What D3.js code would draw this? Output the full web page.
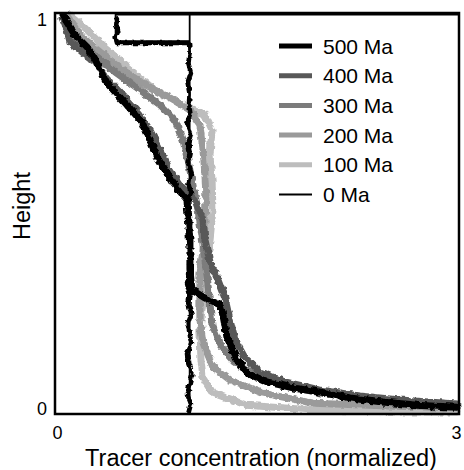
<!DOCTYPE html>
<html>
<head>
<meta charset="utf-8">
<script src="https://cdn.jsdelivr.net/npm/d3@7"></script>
<style>
  body { margin: 0; background: #fff; }
  text { font-family: "Liberation Sans", Arial, sans-serif; fill: #000; }
</style>
</head>
<body>
<div id="chart"></div>
<script>
// series: [concentration, height]
var series500 = [[0.059,0.993],[0.148,0.945],[0.245,0.913],[0.319,0.870],[0.386,0.825],[0.520,0.776],
    [0.653,0.726],[0.705,0.683],[0.757,0.641],[0.876,0.576],[0.980,0.534],[0.987,0.496],[1.002,0.434],
    [1.002,0.359],[1.017,0.309],[1.114,0.289],[1.225,0.272],[1.247,0.247],[1.277,0.192],[1.351,0.135],
    [1.425,0.102],[1.574,0.080],[1.767,0.065],[1.967,0.055],[2.190,0.040],[2.435,0.030],[2.687,0.022],[2.984,0.017]];
var series400 = [[0.052,0.988],[0.089,0.958],[0.111,0.928],[0.200,0.903],[0.297,0.878],[0.393,0.833],
    [0.520,0.788],[0.631,0.746],[0.705,0.708],[0.780,0.658],[0.854,0.608],[0.928,0.571],[1.039,0.534],
    [1.099,0.484],[1.114,0.434],[1.151,0.379],[1.210,0.334],[1.262,0.289],[1.299,0.234],[1.336,0.185],
    [1.411,0.140],[1.522,0.105],[1.708,0.080],[1.967,0.060],[2.264,0.045],[2.561,0.035],[2.984,0.025]];
var series300 = [[0.067,0.990],[0.148,0.938],[0.297,0.895],[0.445,0.853],[0.631,0.808],[0.780,0.771],
    [0.891,0.733],[0.950,0.683],[0.987,0.633],[1.024,0.571],[1.062,0.509],[1.091,0.446],[1.114,0.384],
    [1.136,0.322],[1.151,0.272],[1.166,0.222],[1.225,0.172],[1.336,0.130],[1.485,0.097],[1.708,0.072],
    [1.967,0.052],[2.339,0.037],[2.710,0.027],[2.984,0.020]];
var series200 = [[0.089,0.993],[0.186,0.945],[0.334,0.903],[0.483,0.863],[0.668,0.820],[0.854,0.788],
    [1.002,0.758],[1.076,0.721],[1.099,0.658],[1.114,0.596],[1.121,0.534],[1.114,0.471],[1.099,0.409],
    [1.076,0.347],[1.076,0.284],[1.076,0.234],[1.099,0.177],[1.173,0.117],[1.299,0.085],[1.544,0.052],
    [1.915,0.027],[2.487,0.020],[2.984,0.015]];
var series100 = [[0.111,0.995],[0.200,0.970],[0.371,0.913],[0.572,0.855],[0.742,0.808],[0.950,0.771],
    [1.114,0.746],[1.166,0.708],[1.151,0.646],[1.166,0.584],[1.173,0.509],[1.151,0.434],[1.128,0.359],
    [1.099,0.284],[1.076,0.209],[1.084,0.135],[1.099,0.092],[1.173,0.052],[1.425,0.022],[1.915,0.010],
    [2.561,0.005],[2.984,0.005]];

// initial (0 Ma) profile, jagged markers
var initialHeight = [0,0.025,0.05,0.075,0.1,0.125,0.15,0.175,0.2,0.225,0.25,0.275,0.3,0.325,0.35,0.375,
    0.4,0.425,0.45,0.475,0.5,0.525,0.55,0.575,0.6,0.625,0.65,0.675,0.7,0.725,0.75,0.775,0.8,0.825,0.85,
    0.875,0.9,0.925,0.925,0.94,0.955,0.97,0.985,0.99];
var initialConc = [0.99,1.01,0.98,1.0,1.02,0.99,0.98,1.01,1.0,0.985,1.015,0.99,1.0,0.98,1.01,0.995,
    1.02,0.99,0.985,1.005,1.0,0.98,1.01,0.99,1.015,0.985,1.0,0.99,1.01,0.98,1.005,0.995,1.0,0.985,1.01,
    0.99,1.0,0.995,0.46,0.45,0.47,0.455,0.46,0.45];
var zeroMaColumn = [[1,0],[1,1]];
var zeroMaStep = [[3,0.996],[0.45,0.996],[0.45,0.93],[1,0.93]];

var legendLabels = ["500 Ma","400 Ma","300 Ma","200 Ma","100 Ma","0 Ma"];
var xTicks = [0,3];
var yTicks = [0,1];

var width = 464, height = 470;
var margin = {top: 13, right: 5, bottom: 56, left: 55};

var svg = d3.select("#chart").append("svg")
    .attr("width", width)
    .attr("height", height);

// roughens the thick profile lines so they look like dense marker clouds
var filter = svg.append("defs").append("filter")
    .attr("id", "rough")
    .attr("x", "-5%").attr("y", "-5%").attr("width", "110%").attr("height", "110%");
filter.append("feTurbulence")
    .attr("type", "fractalNoise")
    .attr("baseFrequency", 0.2)
    .attr("numOctaves", 2)
    .attr("seed", 3)
    .attr("result", "noise");
filter.append("feDisplacementMap")
    .attr("in", "SourceGraphic")
    .attr("in2", "noise")
    .attr("scale", 5)
    .attr("xChannelSelector", "R")
    .attr("yChannelSelector", "G");

var x = d3.scaleLinear().domain([0,3]).range([margin.left, width - margin.right]);
var y = d3.scaleLinear().domain([0,1]).range([height - margin.bottom, margin.top]);

var line = d3.line()
    .x(function(d){ return x(d[0]); })
    .y(function(d){ return y(d[1]); });

var curves = [
    {data: series100, color: "#bdbdbd"},
    {data: series200, color: "#9a9a9a"},
    {data: series300, color: "#7b7b7b"},
    {data: series400, color: "#585858"},
    {data: series500, color: "#000"}
];

var curveLayer = svg.append("g").attr("filter", "url(#rough)");
curveLayer.selectAll(".curve").data(curves)
    .enter().append("path")
    .attr("class", "curve")
    .attr("d", function(d){ return line(d.data); })
    .attr("fill", "none")
    .attr("stroke", function(d){ return d.color; })
    .attr("stroke-width", 7)
    .attr("stroke-linejoin", "round")
    .attr("stroke-linecap", "round");

var initialData = initialHeight.map(function(h, i){ return [initialConc[i], h]; });
curveLayer.append("path")
    .attr("d", line(initialData))
    .attr("fill", "none")
    .attr("stroke", "#000")
    .attr("stroke-width", 4.5)
    .attr("stroke-linejoin", "round");

[zeroMaColumn, zeroMaStep].forEach(function(p){
    svg.append("path")
        .attr("d", line(p))
        .attr("fill", "none")
        .attr("stroke", "#000")
        .attr("stroke-width", 1.8);
});

// frame
svg.append("rect")
    .attr("x", x(0)).attr("y", y(1))
    .attr("width", x(3) - x(0)).attr("height", y(0) - y(1))
    .attr("fill", "none").attr("stroke", "#000").attr("stroke-width", 2.5);

// axes
var fmt = d3.format("d");
var xAxis = svg.append("g")
    .attr("transform", "translate(0," + y(0) + ")")
    .call(d3.axisBottom(x).tickValues(xTicks).tickFormat(fmt).tickSize(0).tickPadding(12));
var yAxis = svg.append("g")
    .attr("transform", "translate(" + x(0) + ",0)")
    .call(d3.axisLeft(y).tickValues(yTicks).tickFormat(fmt).tickSize(0).tickPadding(8));
[xAxis, yAxis].forEach(function(a){
    a.select(".domain").remove();
    a.selectAll("text").style("font-size", "18px").style("font-family", "Liberation Sans, Arial, sans-serif");
});
xAxis.selectAll("text").attr("dx", function(d){ return d == 3 ? -3 : 2; });
yAxis.selectAll("text").attr("dy", function(d){ return d == 1 ? "0.7em" : "0.05em"; });

svg.append("text")
    .attr("x", 261).attr("y", 466)
    .attr("text-anchor", "middle")
    .style("font-size", "23.5px")
    .text("Tracer concentration (normalized)");

svg.append("text")
    .attr("transform", "translate(30,206) rotate(-90)")
    .attr("text-anchor", "middle")
    .style("font-size", "23.5px")
    .text("Height");

// legend
var legendColors = ["#000","#585858","#7b7b7b","#9a9a9a","#bdbdbd","#000"];
var legendWidths = [5,5,5,5,5,2];
var legend = svg.selectAll(".legend").data(legendLabels)
    .enter().append("g")
    .attr("class", "legend")
    .attr("transform", function(d, i){ return "translate(279," + (46 + i * 29.7) + ")"; });
legend.append("line")
    .attr("x1", 0).attr("x2", 33)
    .attr("stroke", function(d, i){ return legendColors[i]; })
    .attr("stroke-width", function(d, i){ return legendWidths[i]; });
legend.append("text")
    .attr("x", 44).attr("dy", "0.36em")
    .style("font-size", "21px")
    .text(function(d){ return d; });
</script>
</body>
</html>
